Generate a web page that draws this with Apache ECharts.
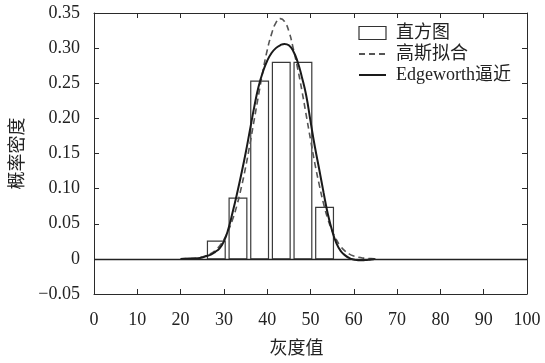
<!DOCTYPE html>
<html>
<head>
<meta charset="utf-8">
<script src="https://cdn.jsdelivr.net/npm/echarts@6/dist/echarts.min.js"></script>
<style>
html,body{margin:0;padding:0;background:#fff;}
#chart{width:545px;height:363px;}
</style>
</head>
<body>
<div id="chart"></div>
<script>
// ---- data ----
var seriesNames = ['直方图', '高斯拟合', 'Edgeworth逼近'];
var binLeft   = [26.2, 31.2, 36.2, 41.2, 46.2, 51.2];
var binRight  = [30.3, 35.3, 40.3, 45.3, 50.3, 55.3];
var binHeight = [0.0252, 0.0866, 0.253, 0.2798, 0.2798, 0.0733];

var curveX = [20, 22, 24, 25, 26, 27, 28, 29, 30, 31, 32, 33, 34, 35, 36, 37, 38, 39, 40, 41, 42, 43, 44, 45, 46, 47, 48, 49, 50, 51, 52, 53, 54, 55, 56, 57, 58, 59, 60, 61, 62, 63, 64, 65];
var gaussY = [0.0001, 0.0005, 0.0016, 0.0028, 0.0046, 0.0076, 0.012, 0.0184, 0.0275, 0.040, 0.056, 0.076, 0.101, 0.130, 0.163, 0.198, 0.233, 0.267, 0.297, 0.320, 0.336, 0.342, 0.338, 0.324, 0.300, 0.272, 0.240, 0.205, 0.170, 0.136, 0.106, 0.079, 0.057, 0.040, 0.027, 0.0175, 0.011, 0.0067, 0.004, 0.0024, 0.0013, 0.0008, 0.0004, 0.0002];
var edgeY  = [0.0000, 0.0005, 0.001, 0.002, 0.004, 0.006, 0.010, 0.015, 0.025, 0.042, 0.066, 0.092, 0.120, 0.150, 0.183, 0.216, 0.245, 0.266, 0.282, 0.293, 0.300, 0.304, 0.306, 0.304, 0.296, 0.281, 0.259, 0.233, 0.196, 0.160, 0.128, 0.095, 0.064, 0.040, 0.022, 0.011, 0.005, 0.001, -0.001, -0.002, -0.002, -0.0015, -0.001, 0.0];

var xTicks = ['0', '10', '20', '30', '40', '50', '60', '70', '80', '90', '100'];
var yTicks = ['\u22120.05', '0', '0.05', '0.10', '0.15', '0.20', '0.25', '0.30', '0.35'];
var xName = '灰度值';
var yName = '概率密度';

// ---- build ----
var FONT = '"Liberation Serif", "Noto Sans CJK SC", serif';
var frameColor = '#2a2a2a';

var barData = binLeft.map(function (l, i) { return [l, binRight[i], binHeight[i]]; });
var gaussData = curveX.map(function (x, i) { return [x, gaussY[i]]; });
var edgeData = curveX.map(function (x, i) { return [x, edgeY[i]]; });

function yLabel(v) {
  var idx = Math.round((v + 0.05) / 0.05);
  return yTicks[idx] !== undefined ? yTicks[idx] : '';
}
function xLabel(v) {
  var idx = Math.round(v / 10);
  return xTicks[idx] !== undefined ? xTicks[idx] : '';
}

var baseAxisLine = { show: true, lineStyle: { color: frameColor, width: 1 } };
var tick = { show: true, inside: true, length: 5, lineStyle: { color: frameColor, width: 1 } };
var hiddenSymbol = { color: 'rgba(0,0,0,0)', borderColor: 'rgba(0,0,0,0)', borderWidth: 0, opacity: 0 };

var chart = echarts.init(document.getElementById('chart'), null, { renderer: 'canvas' });
chart.setOption({
  animation: false,
  backgroundColor: '#fff',
  grid: { left: 94, right: 18, top: 13, bottom: 64, containLabel: false },
  legend: {
    left: 353, top: 19, orient: 'vertical',
    itemWidth: 27, itemHeight: 13, itemGap: 3,
    textStyle: { fontFamily: FONT, fontSize: 18, color: '#222', lineHeight: 18, padding: [0, 0, 0, 5] },
    data: [
      { name: seriesNames[0], icon: 'rect', itemStyle: { color: '#fff', borderColor: '#333', borderWidth: 1.2 } },
      { name: seriesNames[1], itemStyle: hiddenSymbol },
      { name: seriesNames[2], itemStyle: hiddenSymbol }
    ]
  },
  xAxis: [
    {
      type: 'value', min: 0, max: 100, interval: 10, position: 'bottom',
      axisLine: Object.assign({ onZero: false }, baseAxisLine), axisTick: tick,
      splitLine: { show: false },
      axisLabel: { formatter: xLabel, fontFamily: FONT, fontSize: 18, color: '#222', margin: 17 },
      name: xName, nameLocation: 'middle', nameGap: 46,
      nameTextStyle: { fontFamily: FONT, fontSize: 18, color: '#222', padding: [0, 28, 0, 0] }
    },
    {
      type: 'value', min: 0, max: 100, interval: 10, position: 'top',
      axisLine: Object.assign({ onZero: false }, baseAxisLine), axisTick: tick,
      axisLabel: { show: false }, splitLine: { show: false }
    }
  ],
  yAxis: [
    {
      type: 'value', min: -0.05, max: 0.35, interval: 0.05, position: 'left',
      axisLine: Object.assign({ onZero: false }, baseAxisLine), axisTick: tick,
      splitLine: { show: false },
      axisLabel: { formatter: yLabel, fontFamily: FONT, fontSize: 18, color: '#222', margin: 14 },
      name: yName, nameLocation: 'middle', nameGap: 52, nameRotate: 90,
      nameTextStyle: { fontFamily: FONT, fontSize: 18, color: '#222' }
    },
    {
      type: 'value', min: -0.05, max: 0.35, interval: 0.05, position: 'right',
      axisLine: Object.assign({ onZero: false }, baseAxisLine), axisTick: tick,
      axisLabel: { show: false }, splitLine: { show: false }
    }
  ],
  series: [
    {
      name: seriesNames[0], type: 'custom', xAxisIndex: 0, yAxisIndex: 0,
      data: barData,
      encode: { x: [0, 1], y: 2 },
      itemStyle: { color: '#fff', borderColor: '#333', borderWidth: 1.2 },
      renderItem: function (params, api) {
        var p0 = api.coord([api.value(0), api.value(2)]);
        var p1 = api.coord([api.value(1), 0]);
        return {
          type: 'rect',
          shape: { x: p0[0], y: p0[1], width: p1[0] - p0[0], height: p1[1] - p0[1] },
          style: { fill: '#fff', stroke: '#3a3a3a', lineWidth: 1.2 }
        };
      },
      markLine: {
        silent: true, symbol: 'none', label: { show: false },
        lineStyle: { color: '#222', type: 'solid', width: 1.3 },
        data: [{ yAxis: 0 }]
      },
      z: 1
    },
    {
      name: seriesNames[1], type: 'line', data: gaussData, smooth: true,
      showSymbol: false, symbol: 'none',
      lineStyle: { color: '#555', width: 1.6, type: [6, 4] },
      itemStyle: { color: '#555' },
      z: 3
    },
    {
      name: seriesNames[2], type: 'line', data: edgeData, smooth: true,
      showSymbol: false, symbol: 'none',
      lineStyle: { color: '#1a1a1a', width: 2 },
      itemStyle: { color: '#1a1a1a' },
      z: 4
    }
  ]
});
</script>
</body>
</html>
